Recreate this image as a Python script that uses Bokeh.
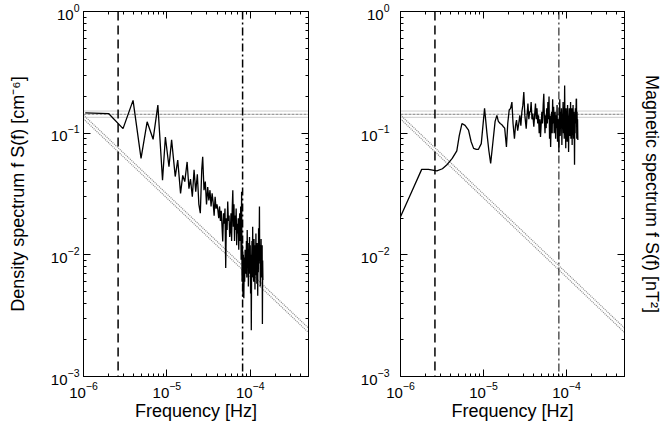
from bokeh.plotting import figure
from bokeh.models import LogAxis, FixedTicker, CustomJSTickFormatter, Span
from bokeh.layouts import row
from bokeh.embed import file_html
from bokeh.resources import INLINE

# ---------------- data ----------------
x_major = [1e-6, 1e-5, 1e-4]
y_major = [1e-3, 1e-2, 1e-1, 1e0]
x_lim = [1e-6, 5e-4]
y_lim = [1e-3, 1.0]

# cutoff frequencies (vertical reference lines)
f_dashed = 2.6e-6
f_dashdot = 8.1e-5

# confidence bands (straight lines in log-log)
band_f = [1e-6, 5e-4]
flat_upper = [0.152, 0.152]
flat_mid = [0.143, 0.143]
flat_lower = [0.135, 0.135]
slope_upper = [0.141, 0.0025]
slope_lower = [0.131, 0.0023]

# density spectrum (frequency in micro-Hz, f S(f) in cm^-6)
dens_freq_uhz = [
    1.05, 2.0, 2.98, 3.93, 4.9, 5.8, 6.84, 7.8, 8.87, 9.6,
    10.6, 11.4, 12.6, 13.5, 14.6, 15.5, 16.4, 17.5, 18.4, 19.2,
    20.2, 21.2, 22.2, 23.2, 24.2, 25.2, 26.2, 26.9, 27.9, 28.9,
    29.9, 30.9, 31.9, 32.9, 33.9, 34.9, 35.9, 36.9, 37.9, 38.9,
    39.9, 40.9, 41.9, 42.9, 43.9, 44.9, 45.9, 46.8, 47.8, 48.8,
    49.8, 50.8, 51.8, 52.8, 53.7, 54.7, 55.7, 56.7, 57.8, 58.8,
    59.8, 60.8, 61.8, 62.8, 63.8, 64.8, 65.8, 66.8, 67.8, 68.8,
    69.8, 70.8, 71.8, 72.8, 73.8, 74.8, 75.8, 76.8, 77.8, 78.8,
    79.8, 80.8, 81.8, 82.8, 83.8, 84.8, 85.8, 86.8, 87.8, 89.0,
    90.0, 91.0, 92.0, 93.0, 94.0, 95.0, 96.0, 97.0, 98.0, 99.0,
    100.0, 101.0, 102.0, 103.0, 104.0, 105.0, 106.0, 107.0, 108.0, 109.0,
    110.0, 111.0, 112.0, 113.0, 114.0, 115.0, 116.0, 117.0, 118.0, 119.0,
    120.0, 121.0, 122.0, 123.0, 124.0, 125.0, 126.0, 127.0, 128.0, 129.0,
    130.0, 131.0, 132.0, 133.0, 134.0, 135.0, 136.0, 137.0, 138.0, 139.0,
    140.0, 141.0, 142.0,
]
dens_value = [
    0.147, 0.145, 0.109, 0.186, 0.062, 0.124, 0.089, 0.170, 0.041, 0.093,
    0.053, 0.088, 0.044, 0.060, 0.032, 0.045, 0.040, 0.058, 0.035, 0.042,
    0.030, 0.050, 0.033, 0.046, 0.026, 0.022, 0.050, 0.064, 0.034, 0.040,
    0.026, 0.036, 0.028, 0.034, 0.025, 0.032, 0.027, 0.021, 0.030, 0.024,
    0.026, 0.0234, 0.020, 0.025, 0.019, 0.023, 0.017, 0.0129, 0.022, 0.018,
    0.024, 0.0078, 0.020, 0.016, 0.0274, 0.019, 0.021, 0.014, 0.016, 0.022,
    0.013, 0.024, 0.034, 0.017, 0.026, 0.013, 0.021, 0.016, 0.024, 0.012,
    0.018, 0.015, 0.020, 0.011, 0.017, 0.022, 0.013, 0.025, 0.0091, 0.033,
    0.006, 0.012, 0.0045, 0.010, 0.0044, 0.0095, 0.006, 0.011, 0.0105, 0.007,
    0.013, 0.0065, 0.016, 0.008, 0.0125, 0.0055, 0.011, 0.007, 0.014, 0.0085,
    0.012, 0.0048, 0.010, 0.0024, 0.009, 0.013, 0.0065, 0.017, 0.0075, 0.011,
    0.006, 0.0135, 0.0085, 0.0105, 0.0052, 0.012, 0.0075, 0.015, 0.0068, 0.0105,
    0.0058, 0.0125, 0.0085, 0.0046, 0.0115, 0.0072, 0.0165, 0.009, 0.013, 0.025,
    0.0085, 0.0115, 0.0055, 0.012, 0.008, 0.0135, 0.0065, 0.0105, 0.0075, 0.012,
    0.0027, 0.009, 0.0062,
]

# magnetic spectrum (frequency in micro-Hz, f S(f) in nT^2)
mag_freq_uhz = [
    1.0, 1.31, 1.8, 2.17, 2.74, 3.2, 3.6, 4.2, 4.77, 5.1,
    5.5, 6.0, 6.6, 7.1, 7.6, 8.2, 8.7, 9.4, 10.3, 11.0,
    11.6, 12.2, 13.0, 13.8, 14.5, 15.1, 15.9, 16.5, 17.4, 18.0,
    18.9, 19.6, 20.4, 21.2, 22.0, 22.7, 23.6, 24.3, 25.0, 25.8,
    26.6, 27.4, 28.2, 29.0, 29.8, 30.6, 31.5, 32.7, 33.5, 34.3,
    35.2, 36.0, 36.8, 37.5, 38.4, 39.2, 40.4, 41.3, 42.3, 43.2,
    44.1, 45.0, 46.0, 46.9, 47.8, 48.6, 49.6, 50.5, 51.4, 52.4,
    53.3, 54.2, 55.1, 56.0, 56.9, 57.8, 58.8, 59.7, 60.6, 61.6,
    62.5, 63.4, 64.4, 65.3, 66.2, 67.2, 68.1, 69.0, 70.0, 71.0,
    72.0, 73.0, 74.0, 75.0, 76.0, 77.0, 78.0, 79.0, 80.0, 81.0,
    82.0, 83.0, 84.0, 85.0, 86.0, 87.0, 88.0, 89.0, 90.0, 91.0,
    92.0, 93.0, 94.0, 95.0, 96.0, 97.0, 98.0, 99.0, 100.0, 101.0,
    102.0, 103.0, 104.0, 105.0, 106.0, 107.0, 108.0, 109.0, 110.0, 111.0,
    112.0, 113.0, 114.0, 115.0, 116.0, 117.0, 118.0, 119.0, 120.0, 121.0,
    122.0, 123.0, 124.0, 125.0, 126.0, 127.0, 128.0, 129.0, 130.0, 131.0,
    132.0, 133.0, 134.0, 135.0, 136.0, 137.0,
]
mag_value = [
    0.0206, 0.031, 0.0504, 0.0504, 0.049, 0.051, 0.0547, 0.062, 0.0716, 0.095,
    0.12, 0.116, 0.106, 0.085, 0.075, 0.0735, 0.0737, 0.082, 0.16, 0.10,
    0.072, 0.0565, 0.085, 0.125, 0.14, 0.125, 0.12, 0.118, 0.113, 0.11,
    0.077, 0.12, 0.155, 0.16, 0.18, 0.12, 0.09, 0.115, 0.128, 0.105,
    0.12, 0.14, 0.115, 0.15, 0.17, 0.218, 0.14, 0.109, 0.14, 0.175,
    0.13, 0.15, 0.15, 0.18, 0.13, 0.145, 0.113, 0.14, 0.175, 0.13,
    0.16, 0.12, 0.14, 0.10, 0.13, 0.093, 0.12, 0.15, 0.12, 0.17,
    0.211, 0.13, 0.10, 0.14, 0.11, 0.16, 0.12, 0.18, 0.13, 0.20,
    0.09, 0.14, 0.077, 0.12, 0.15, 0.10, 0.19, 0.12, 0.165, 0.10,
    0.13, 0.15, 0.09, 0.14, 0.11, 0.17, 0.085, 0.13, 0.105, 0.070,
    0.13, 0.19, 0.095, 0.15, 0.11, 0.16, 0.08, 0.14, 0.12, 0.18,
    0.10, 0.15, 0.09, 0.247, 0.11, 0.14, 0.075, 0.16, 0.10, 0.13,
    0.085, 0.17, 0.11, 0.14, 0.07, 0.12, 0.16, 0.095, 0.15, 0.12,
    0.18, 0.09, 0.13, 0.11, 0.16, 0.08, 0.14, 0.10, 0.17, 0.12,
    0.09, 0.15, 0.11, 0.055, 0.13, 0.10, 0.16, 0.12, 0.14, 0.19,
    0.192, 0.09, 0.15, 0.11, 0.13, 0.088,
]

dens_freq = [f * 1e-6 for f in dens_freq_uhz]
mag_freq = [f * 1e-6 for f in mag_freq_uhz]

x_minor = [m * d for d in (1e-6, 1e-5, 1e-4) for m in range(2, 10) if m * d <= 5e-4]
y_minor = [m * d for d in (1e-3, 1e-2, 1e-1) for m in range(2, 10)]

FONT = "Liberation Sans"


def style_axis(ax, labelled, standoff=5):
    ax.axis_line_color = "black"
    ax.major_tick_line_color = "black"
    ax.minor_tick_line_color = "black"
    ax.major_tick_in = 7
    ax.major_tick_out = 0
    ax.minor_tick_in = 3
    ax.minor_tick_out = 0
    ax.major_label_text_color = "black"
    ax.major_label_text_font = FONT
    ax.major_label_text_font_size = "15px"
    ax.major_label_standoff = standoff
    ax.axis_label_text_color = "black"
    ax.axis_label_text_font = FONT
    ax.axis_label_text_font_size = "18px"
    ax.axis_label_text_font_style = "normal"
    if not labelled:
        ax.formatter = CustomJSTickFormatter(code="return ''")
        ax.major_label_text_font_size = "0px"
        ax.major_label_standoff = 0


def make_fig(width, border_left, border_right, ylab_gap):
    p = figure(width=width, height=430, x_axis_type="log", y_axis_type="log",
               x_range=tuple(x_lim), y_range=tuple(y_lim),
               output_backend="svg", toolbar_location=None,
               min_border_left=border_left, min_border_right=border_right,
               min_border_top=11, min_border_bottom=54)
    p.grid.visible = False
    p.outline_line_color = "black"
    p.background_fill_color = "white"
    p.border_fill_color = "white"

    xa = p.xaxis[0]
    xa.ticker = FixedTicker(ticks=x_major, minor_ticks=x_minor)
    style_axis(xa, True, 5)
    xa.axis_label = "Frequency [Hz]"
    xa.axis_label_standoff = 0

    ya = p.yaxis[0]
    ya.ticker = FixedTicker(ticks=y_major, minor_ticks=y_minor)
    style_axis(ya, True, ylab_gap)

    top = LogAxis(ticker=FixedTicker(ticks=x_major, minor_ticks=x_minor))
    style_axis(top, False)
    p.add_layout(top, "above")
    right = LogAxis(ticker=FixedTicker(ticks=y_major, minor_ticks=y_minor))
    style_axis(right, False)
    p.add_layout(right, "right")

    # confidence bands
    for yy, dash, col in ((flat_upper, "1 1", "#9a9a9a"), (flat_mid, "3 1", "#808080"),
                          (flat_lower, "1 1", "#9a9a9a")):
        p.line(band_f, yy, line_color=col, line_dash=dash, line_width=1)
    for yy in (slope_upper, slope_lower):
        p.line(band_f, yy, line_color="#8a8a8a", line_dash="1 1", line_width=1.2)

    p.add_layout(Span(location=f_dashed, dimension="height", line_color="black",
                      line_dash="9 5", line_width=1.5))
    return p, ya, right


p1, ya1, r1 = make_fig(318, 83, 10, 4)
ya1.axis_label = "Density spectrum f S(f) [cm⁻⁶]"
ya1.axis_label_standoff = 20
p1.add_layout(Span(location=f_dashdot, dimension="height", line_color="black",
                   line_dash="8 3 2 3", line_width=1.5))
p1.line(dens_freq, dens_value, line_color="black", line_width=1.3)

p2, ya2, r2 = make_fig(347, 82, 41, 11)
r2.axis_label = "Magnetic spectrum f S(f) [nT²]"
r2.axis_label_standoff = 17
p2.add_layout(Span(location=f_dashdot, dimension="height", line_color="black",
                   line_dash="8 3 2 3", line_width=1.0))
p2.line(mag_freq, mag_value, line_color="black", line_width=1.3)

layout = row(p1, p2)
open("out.html", "w").write(file_html(layout, INLINE))
